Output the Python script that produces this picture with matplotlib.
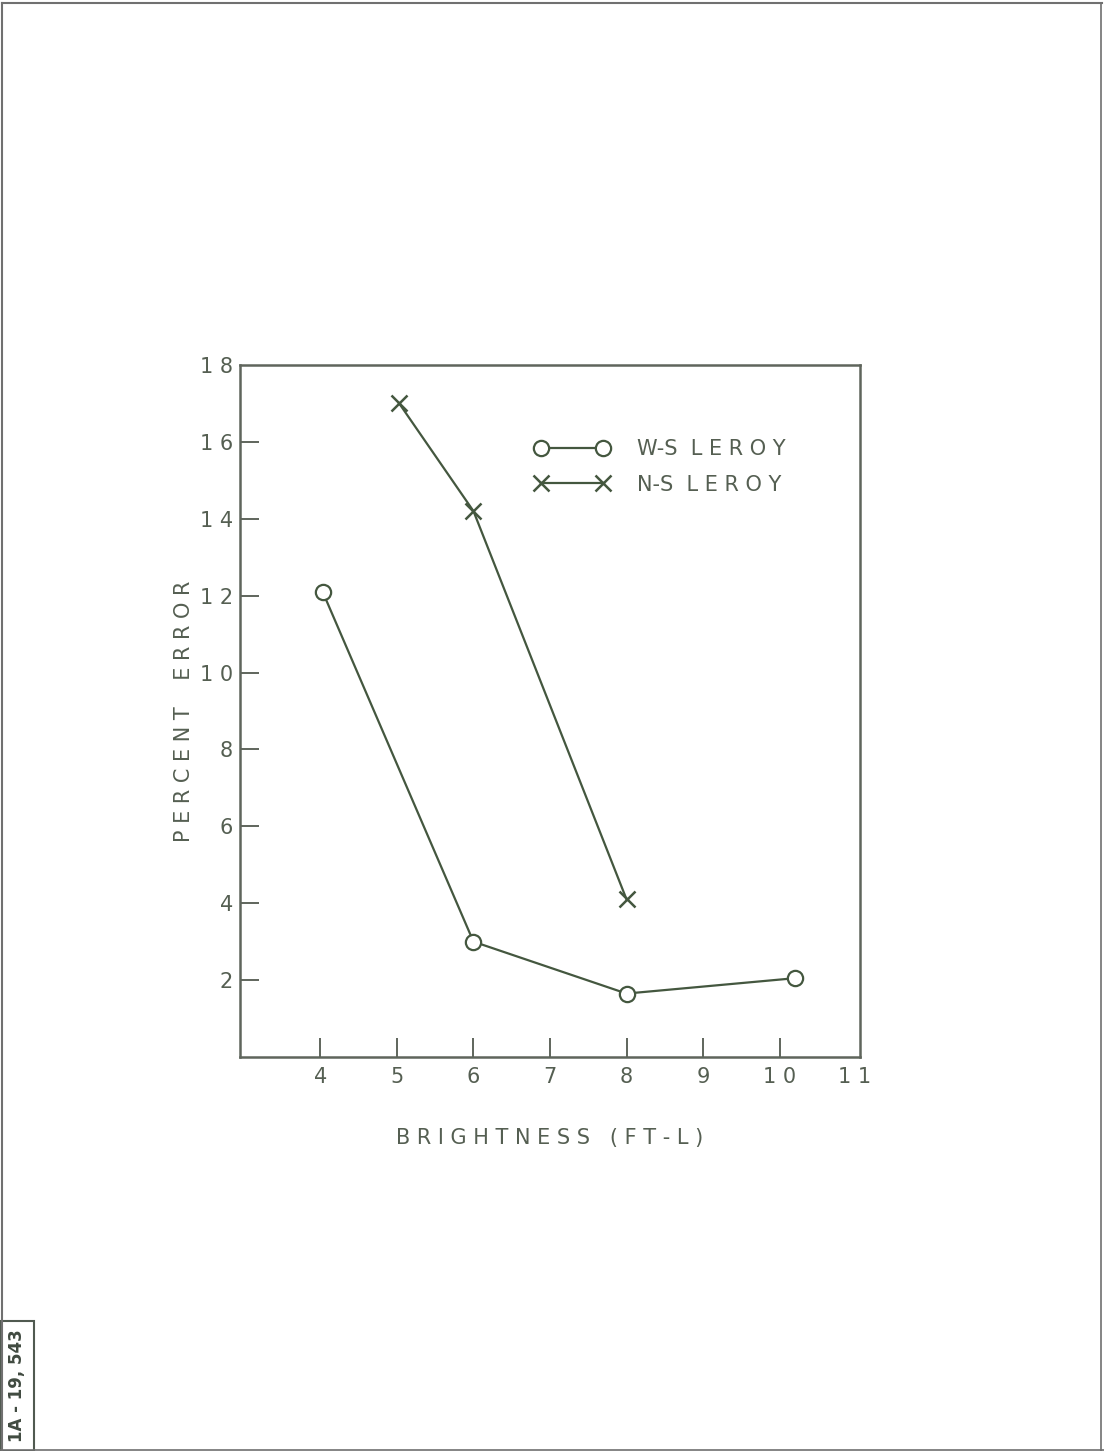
import matplotlib
matplotlib.use("Agg")
import matplotlib.pyplot as plt
from matplotlib.patches import Rectangle
from matplotlib.lines import Line2D

ws_x = [4.03, 6.0, 8.0, 10.2]
ws_y = [12.1, 3.0, 1.65, 2.05]
ns_x = [5.03, 6.0, 8.0]
ns_y = [17.0, 14.2, 4.1]
xticks = [4, 5, 6, 7, 8, 9, 10]
xtick_labels = ["4", "5", "6", "7", "8", "9", "1 0"]
yticks = [2, 4, 6, 8, 10, 12, 14, 16, 18]
ytick_labels = ["2", "4", "6", "8", "1 0", "1 2", "1 4", "1 6", "1 8"]

line_c = "#44573f"
text_c = "#555f52"
spine_c = "#5f655c"

fig = plt.figure(figsize=(11.04, 14.51), dpi=100)
fig.patch.set_facecolor("white")
ax = fig.add_axes([240/1104, 1-1057/1451, (860-240)/1104, (1057-365)/1451])

ax.plot(ws_x, ws_y, color=line_c, lw=1.6, marker="o", ms=11,
        mfc="white", mec=line_c, mew=1.6, label="W-S  L E R O Y")
ax.plot(ns_x, ns_y, color=line_c, lw=1.6, marker="x", ms=11,
        mec=line_c, mew=1.8, label="N-S  L E R O Y")

ax.set_xlim(2.95, 11.05)
ax.set_ylim(0, 18)
ax.set_xticks(xticks)
ax.set_xticklabels(xtick_labels)
ax.set_yticks(yticks)
ax.set_yticklabels(ytick_labels)
ax.tick_params(direction="in", length=14, width=1.4, colors=spine_c,
               labelcolor=text_c, labelsize=15, pad=7)
ax.tick_params(axis="y", pad=5)
ax.yaxis.get_major_ticks()[-1].tick1line.set_visible(False)
# "11" label at right edge without a tick
ax.text(10.98, -0.27, "1 1", ha="center", va="top", fontsize=15, color=text_c,
        transform=ax.transData)
for s in ax.spines.values():
    s.set_color(spine_c)
    s.set_linewidth(1.8)

ax.set_xlabel("B R I G H T N E S S   ( F T - L )", fontsize=15, color=text_c, labelpad=30)
ax.set_ylabel("P E R C E N T    E R R O R", fontsize=15, color=text_c, labelpad=4)

leg = ax.legend(loc="upper left", bbox_to_anchor=(0.445, 0.92), frameon=False,
                numpoints=2, handlelength=3.6, fontsize=15, labelspacing=0.75,
                handletextpad=1.3)
for t in leg.get_texts():
    t.set_color(text_c)

# page border
fig.add_artist(Line2D([0.002, 0.998], [0.998, 0.998], transform=fig.transFigure,
                      color="#707070", lw=1.5))
fig.add_artist(Line2D([0.002, 0.002], [0.0, 0.998], transform=fig.transFigure,
                      color="#707070", lw=1.5))
fig.add_artist(Line2D([0.997, 0.997], [0.0, 0.998], transform=fig.transFigure,
                      color="#707070", lw=1.2))
fig.add_artist(Line2D([0.0, 1.0], [0.001, 0.001], transform=fig.transFigure,
                      color="#707070", lw=1.2))
# stamp box
fig.add_artist(Rectangle((0.0, 0.0), 34/1104, 130/1451, transform=fig.transFigure,
                         fill=False, edgecolor="#505a50", lw=1.5))
fig.text(17/1104, 65/1451, "1A - 19, 543", rotation=90, ha="center", va="center",
         fontsize=12, fontweight="bold", color="#404a40")

fig.savefig("out.png", dpi=100, facecolor="white")
